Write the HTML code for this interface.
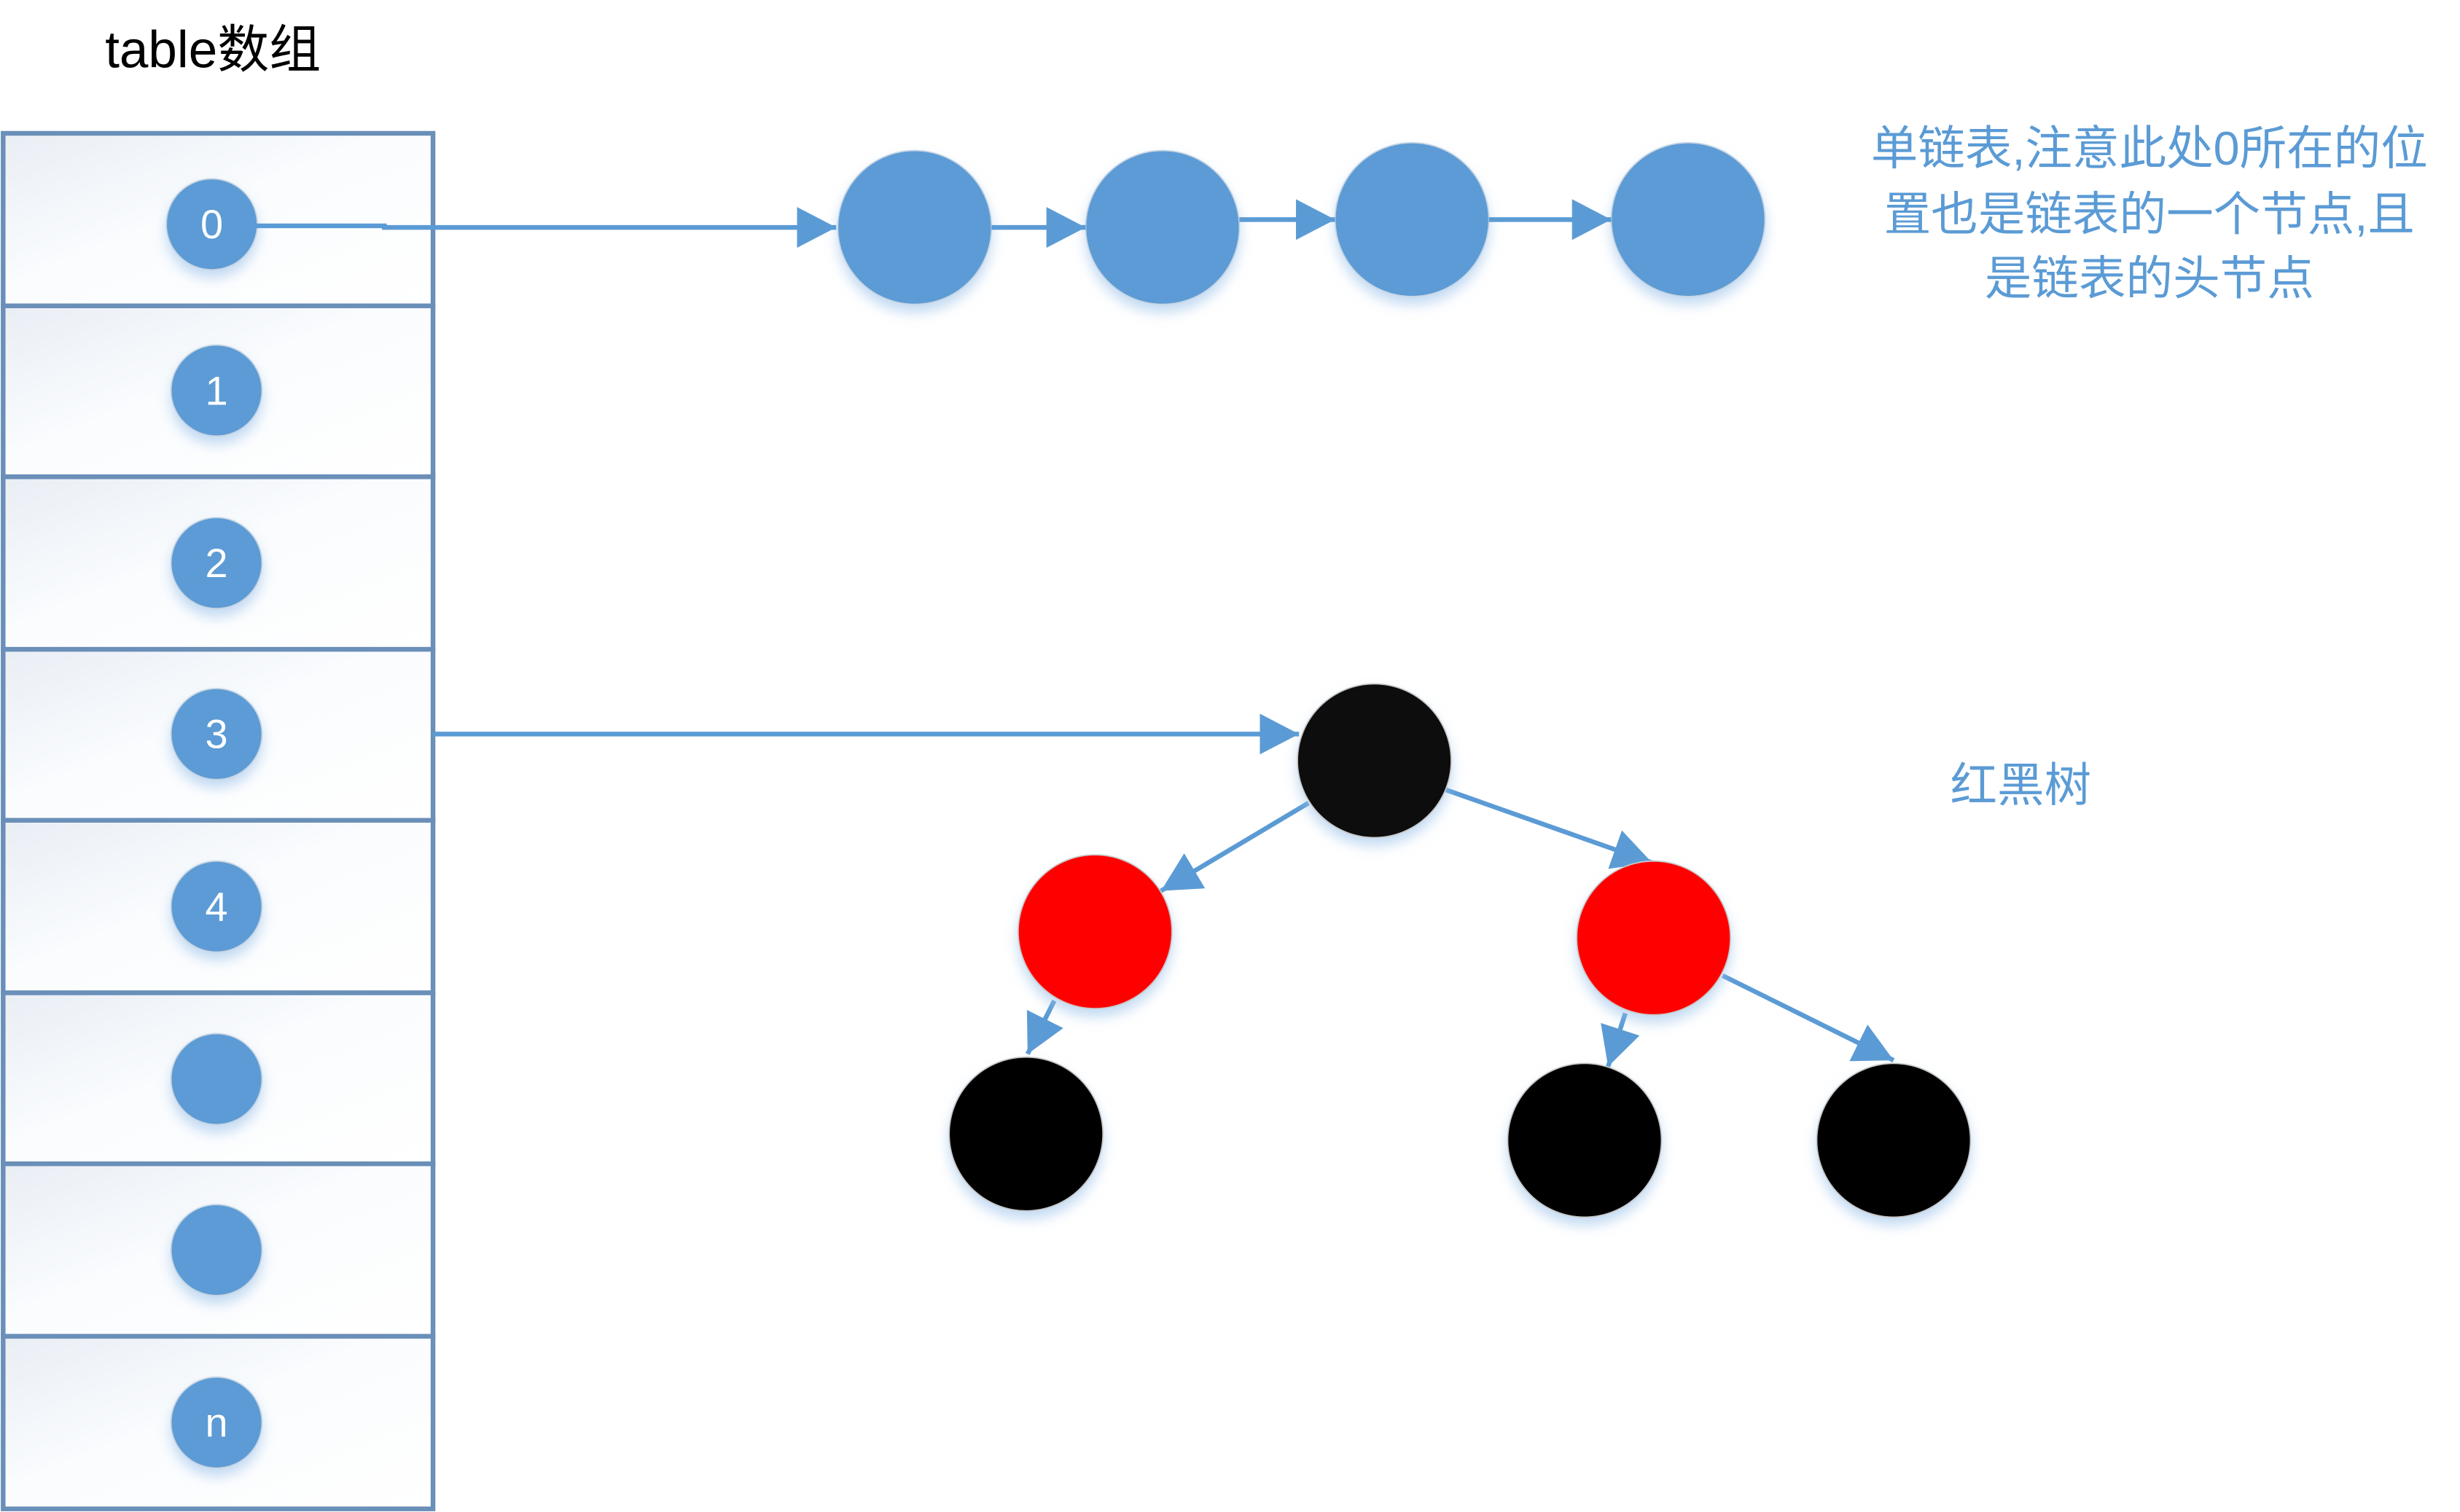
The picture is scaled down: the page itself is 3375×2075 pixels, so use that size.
<!DOCTYPE html>
<html><head><meta charset="utf-8"><style>
html,body{margin:0;padding:0;background:#fff;}
svg{display:block;}
</style></head><body>
<svg width="3375" height="2075" viewBox="0 0 1568 964" preserveAspectRatio="none" xmlns="http://www.w3.org/2000/svg">
<defs>
<linearGradient id="cell" x1="0" y1="0" x2="1" y2="1">
<stop offset="0" stop-color="#e9eef5"/><stop offset="0.45" stop-color="#fafcfe"/><stop offset="1" stop-color="#ffffff"/>
</linearGradient>
<filter id="sh" x="-30%" y="-30%" width="160%" height="170%">
<feDropShadow dx="0" dy="5" stdDeviation="4" flood-color="#9cc3ea" flood-opacity="0.6"/>
</filter>
<marker id="ah" markerUnits="userSpaceOnUse" markerWidth="26" markerHeight="26" refX="25" refY="13" orient="auto">
<path d="M0,0 L25,13 L0,26 Z" fill="#5b9bd5"/>
</marker>
</defs>
<text x="67" y="43" font-family="Liberation Sans, 'Noto Sans CJK SC', sans-serif" font-size="33" fill="#000">table数组</text>
<g stroke="#6a8fb8" stroke-width="3">
<rect x="2" y="85" width="274" height="110" fill="url(#cell)"/>
<rect x="2" y="195" width="274" height="109" fill="url(#cell)"/>
<rect x="2" y="304" width="274" height="110" fill="url(#cell)"/>
<rect x="2" y="414" width="274" height="109" fill="url(#cell)"/>
<rect x="2" y="523" width="274" height="110" fill="url(#cell)"/>
<rect x="2" y="633" width="274" height="109" fill="url(#cell)"/>
<rect x="2" y="742" width="274" height="110" fill="url(#cell)"/>
<rect x="2" y="852" width="274" height="110" fill="url(#cell)"/>
</g>
<g fill="#5b9bd5" stroke="#c6d4e2" stroke-width="0.8" filter="url(#sh)">
<circle cx="135" cy="143" r="29"/>
<circle cx="138" cy="249" r="29"/>
<circle cx="138" cy="359" r="29"/>
<circle cx="138" cy="468" r="29"/>
<circle cx="138" cy="578" r="29"/>
<circle cx="138" cy="688" r="29"/>
<circle cx="138" cy="797" r="29"/>
<circle cx="138" cy="907" r="29"/>
<circle cx="583" cy="145" r="49"/>
<circle cx="741" cy="145" r="49"/>
<circle cx="900" cy="140" r="49"/>
<circle cx="1076" cy="140" r="49"/>
</g>
<g font-family="Liberation Sans, sans-serif" font-size="26" fill="#fff" text-anchor="middle">
<text x="135" y="152">0</text>
<text x="138" y="258">1</text>
<text x="138" y="368">2</text>
<text x="138" y="477">3</text>
<text x="138" y="587">4</text>
<text x="138" y="916">n</text>
</g>
<g stroke="#5b9bd5" stroke-width="3" fill="none" marker-end="url(#ah)">
<polyline points="163,144 245,144 245,145 533,145"/>
<line x1="632" y1="145" x2="692" y2="145"/>
<line x1="790" y1="140" x2="851" y2="140"/>
<line x1="949" y1="140" x2="1027" y2="140"/>
<line x1="276" y1="468" x2="828" y2="468"/>
<line x1="834" y1="512" x2="740" y2="568"/>
<line x1="920" y1="503" x2="1053" y2="550"/>
<line x1="672" y1="638" x2="655" y2="672"/>
<line x1="1036" y1="646" x2="1025" y2="680"/>
<line x1="1098" y1="622" x2="1207" y2="676"/>
</g>
<g stroke="#c8c8c8" stroke-width="0.8" filter="url(#sh)">
<circle cx="876" cy="485" r="49" fill="#0d0d0d"/>
<circle cx="698" cy="594" r="49" fill="#ff0000"/>
<circle cx="1054" cy="598" r="49" fill="#ff0000"/>
<circle cx="654" cy="723" r="49" fill="#000"/>
<circle cx="1010" cy="727" r="49" fill="#000"/>
<circle cx="1207" cy="727" r="49" fill="#000"/>
</g>
<g font-family="Liberation Sans, 'Noto Sans CJK SC', sans-serif" font-size="30" fill="#5b9bd5" text-anchor="middle">
<text x="1370" y="105">单链表,注意此处0所在的位</text>
<text x="1370" y="147">置也是链表的一个节点,且</text>
<text x="1370" y="188">是链表的头节点</text>
<text x="1288" y="511">红黑树</text>
</g>
</svg>
</body></html>
